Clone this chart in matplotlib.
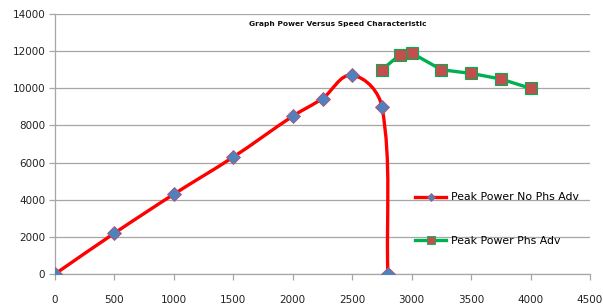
import numpy as np
import matplotlib
matplotlib.use("Agg")
import matplotlib.pyplot as plt
from matplotlib.path import Path
from matplotlib.patches import PathPatch
from matplotlib.lines import Line2D

# Data
speed_no_adv = [0, 500, 1000, 1500, 2000, 2250, 2500, 2750, 2800]
power_no_adv = [0, 2200, 4300, 6300, 8500, 9450, 10700, 9000, 0]
speed_adv = [2750, 2900, 3000, 3250, 3500, 3750, 4000]
power_adv = [11000, 11800, 11900, 11000, 10800, 10500, 10000]
x_ticks = [0, 500, 1000, 1500, 2000, 2500, 3000, 3500, 4000, 4500]
y_ticks = [0, 2000, 4000, 6000, 8000, 10000, 12000, 14000]
title = "Graph Power Versus Speed Characteristic"
labels = ["Peak Power No Phs Adv", "Peak Power Phs Adv"]

red = "#FF0000"
green = "#00B050"
blue = "#4F81BD"
brick = "#C0504D"

fig = plt.figure(figsize=(6.03, 3.07), dpi=100)
ax = fig.add_axes([55/603, 1-274/307, (590-55)/603, (274-14)/307])
ax.set_xlim(0, 4500)
ax.set_ylim(0, 14000)

# Excel-like smoothed Bezier path computed in display space
pts = ax.transData.transform(np.column_stack([speed_no_adv, power_no_adv]).astype(float))
n = len(pts)

def unit(v):
    L = np.hypot(*v)
    return v / L if L > 0 else v

tangents = []
for i in range(n):
    a = pts[i-1] if i > 0 else pts[i]
    b = pts[i+1] if i < n-1 else pts[i]
    tangents.append(unit(b - a))

verts = [pts[0]]
codes = [Path.MOVETO]
for i in range(n-1):
    p1, p2 = pts[i], pts[i+1]
    d = np.hypot(*(p2 - p1)) / 3.0
    c1 = p1 + tangents[i] * d
    c2 = p2 - tangents[i+1] * d
    verts += [c1, c2, p2]
    codes += [Path.CURVE4]*3
verts = ax.transData.inverted().transform(np.array(verts))
ax.add_patch(PathPatch(Path(verts, codes), facecolor='none', edgecolor=red,
                       lw=2.4, zorder=3, capstyle='round'))
ax.plot(speed_no_adv, power_no_adv, linestyle='none', marker='D', ms=7.5,
        mfc=blue, mec="#B05070", mew=0.6, zorder=4)

ax.plot(speed_adv, power_adv, color=green, lw=2.4, marker='s', ms=8.3,
        mfc=brick, mec=green, mew=0.8, zorder=4)

ax.set_xticks(x_ticks)
ax.set_yticks(y_ticks)
ax.grid(axis='y', color='#A6A6A6', lw=0.9)
ax.set_axisbelow(True)
for s in ['top', 'right']:
    ax.spines[s].set_visible(False)
for s in ['left', 'bottom']:
    ax.spines[s].set_color('#A6A6A6')
    ax.spines[s].set_linewidth(0.9)
ax.tick_params(axis='both', colors='#A6A6A6', labelcolor='#222222',
               labelsize=7.5, length=4, width=0.9)
ax.tick_params(axis='x', pad=11)
ax.tick_params(axis='y', pad=3)

fig.text(338/603, 1-24/307, title, fontsize=5.4, fontweight='bold',
         ha='center', va='center', color='#111111')

handles = [
    Line2D([], [], color=red, lw=2.4, marker='D', ms=4.5, mfc=blue, mec="#B05070", mew=0.5),
    Line2D([], [], color=green, lw=2.4, marker='s', ms=5.5, mfc=brick, mec=green, mew=0.6),
]
fig.legend(handles, labels, loc='upper left', bbox_to_anchor=(415/603, 1-192.5/307),
           frameon=False, fontsize=7.8, handlelength=2.9, handletextpad=0.4,
           labelspacing=3.1, borderpad=0, borderaxespad=0)

fig.savefig("out.png", dpi=100)
